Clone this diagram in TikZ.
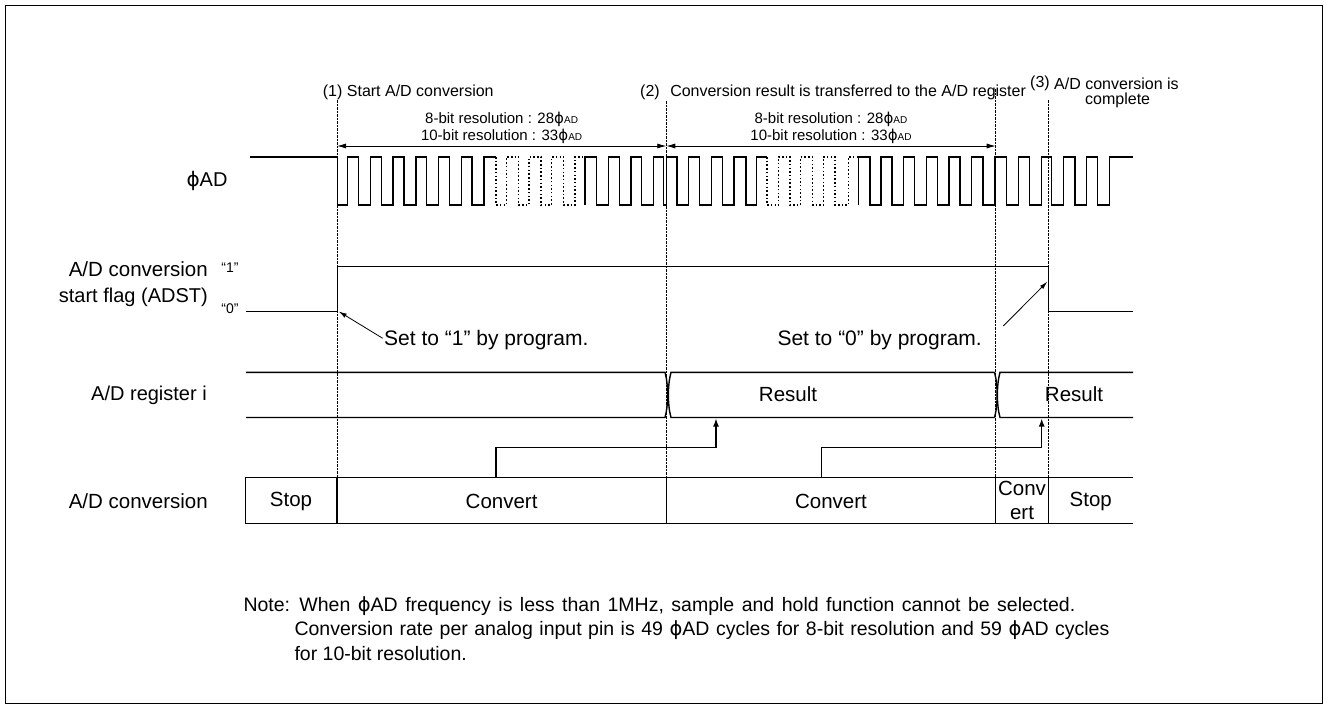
\documentclass[tikz,border=0pt]{standalone}
\usepackage{fontspec}
\setmainfont{Liberation Sans}
\newfontfamily\phifont{DejaVu Sans}
\usetikzlibrary{arrows.meta}
\newcommand\fsz[1]{\fontsize{#1}{#1}\selectfont}
\newcommand\phad{{\phifont ϕ}AD}
\newcommand\phsmall{{\phifont ϕ}{\fontsize{10}{10}\selectfont AD}}
\begin{document}
\begin{tikzpicture}[x=1pt,y=-1pt,
  wave/.style={line width=1.4pt},
  dotwave/.style={line width=1.5pt, dash pattern=on 1.5pt off 2.2pt},
  guide/.style={line width=0.9pt, dash pattern=on 2.5pt off 1pt},
  dimarrow/.style={line width=0.8pt, {Latex[length=9pt,width=5pt]}-{Latex[length=9pt,width=5pt]}},
  ptr/.style={line width=0.8pt, -{Latex[length=8pt,width=4.5pt]}},
  bigarrow/.style={line width=1.4pt, -{Latex[length=8pt,width=6pt]}},
  toplabel/.style={inner sep=0pt, font=\fsz{16}},
  dimlabel/.style={inner sep=0pt, font=\fsz{15}},
  rowlabel/.style={inner sep=0pt, font=\fsz{20}, align=right},
  celltext/.style={inner sep=0pt, font=\fsz{20.5}},
  settext/.style={inner sep=0pt, font=\fsz{21}},
  notetext/.style={inner sep=0pt, font=\fsz{19.5}, anchor=base west}]
\useasboundingbox (0,0) rectangle (1328,709);
\draw[line width=1pt] (5.5,5.5) rectangle (1322.5,703.5);

% guide lines
\coordinate (g1t) at (337,100);   \coordinate (g1b) at (337,477.7);
\coordinate (g2t) at (666.3,101); \coordinate (g2b) at (666.3,477.7);
\coordinate (g3t) at (995.7,89);  \coordinate (g3b) at (995.7,477.7);
\coordinate (g4t) at (1048.8,100);\coordinate (g4b) at (1048.8,477.7);
\draw[guide] (g1t) -- (g1b);
\draw[guide] (g2t) -- (g2b);
\draw[guide] (g3t) -- (g3b);
\draw[guide] (g4t) -- (g4b);

% top labels
\node[toplabel, anchor=base west] (l1) at (322.7,96.7) {(1) Start A/D conversion};
\node[toplabel, anchor=base west] (l2) at (640,96.7) {(2)\hspace{10.5pt}Conversion result is transferred to the A/D register};
\node[toplabel, anchor=base west] (l3a) at (1030,88) {(3)};
\node[toplabel, anchor=base west] (l3b) at (1054,89.5) {A/D conversion is};
\node[toplabel, anchor=base west] (l3c) at (1085,104.5) {complete};

% dimension arrows
\coordinate (d1) at (337,146); \coordinate (d2) at (666.3,146); \coordinate (d3) at (995.7,146);
\draw[dimarrow] (d1) -- (d2);
\draw[dimarrow] (d2) -- (d3);
\node[dimlabel, anchor=base] (r8a) at (501.6,123.5) {8-bit resolution : 28\phsmall};
\node[dimlabel, anchor=base] (r10a) at (501.6,140) {10-bit resolution : 33\phsmall};
\node[dimlabel, anchor=base] (r8b) at (831,123.5) {8-bit resolution : 28\phsmall};
\node[dimlabel, anchor=base] (r10b) at (831,140) {10-bit resolution : 33\phsmall};

% clock
\draw[wave] (250,157) -- (337.5,157) -- (337.5,205)
  \foreach \r/\f in {347.7/358.5, 370.4/381.2, 393.1/403.9, 415.8/426.6, 438.5/449.3, 461.2/472}
  { -- (\r,205) -- (\r,157) -- (\f,157) -- (\f,205) } -- (483.9,205) -- (483.9,157) -- (496,157);
\draw[dotwave] (496,157)
  \foreach \f/\r in {496/506.5, 518.5/529, 541.2/551.5, 563.5/575}
  { -- (\f,157) -- (\f,205) -- (\r,205) -- (\r,157) } -- (585,157);
\draw[wave] (585,205) -- (585,157)
  \foreach \f/\r in {596.7/608.3, 619.3/631, 641.7/653.3, 663.3/666.5, 677/688.3, 699.3/711.7, 722.7/734, 746/756.7}
  { -- (\f,157) -- (\f,205) -- (\r,205) -- (\r,157) } -- (767,157);
\draw[dotwave] (767,157)
  \foreach \f/\r in {767/778.3, 790/800.5, 812.7/823.3, 835/848.3}
  { -- (\f,157) -- (\f,205) -- (\r,205) -- (\r,157) } -- (858.3,157);
\draw[wave] (858.3,205) -- (858.3,157)
  \foreach \f/\r in {870/881, 892/903.6, 914.6/926.3, 937.3/949, 960/971.7, 983/995, 1006.7/1018.3, 1029.3/1041.7, 1051.7/1063.3, 1075/1086.7, 1097.3/1109.3}
  { -- (\f,157) -- (\f,205) -- (\r,205) -- (\r,157) } -- (1132.7,157);

% ADST
\draw[wave] (246,311.5) -- (337.5,311.5) -- (337.5,266.5) -- (1048.5,266.5) -- (1048.5,311.5) -- (1133,311.5);
\node[inner sep=0pt, font=\fsz{14}] (q1) at (230,268) {“1”};
\node[inner sep=0pt, font=\fsz{14}] (q0) at (230,309) {“0”};
\node[settext, anchor=west] (set1) at (384,340) {Set to “1” by program.};
\node[settext, anchor=east] (set0) at (982,340) {Set to “0” by program.};
\coordinate (s1tip) at (338.8,311.5);
\coordinate (s1from) at (382.7,338.3);
\coordinate (s0tip) at (1047.3,281.7);
\coordinate (s0from) at (1003.3,326);
\draw[ptr] (s1from) -- (s1tip);
\draw[ptr] (s0from) -- (s0tip);

% register
\def\rt{372.3}\def\rb{417.5}
\draw[wave] (246,\rt) -- (665,\rt) .. controls (668.5,385) and (668.5,405) .. (665,\rb) -- (246,\rb);
\draw[wave] (994.5,\rt) -- (671,\rt) .. controls (667.5,385) and (667.5,405) .. (671,\rb) -- (994.5,\rb);
\draw[wave] (994.5,\rt) .. controls (998,385) and (998,405) .. (994.5,\rb);
\draw[wave] (1133,\rt) -- (1000,\rt) .. controls (996.5,385) and (996.5,405) .. (1000,\rb) -- (1133,\rb);
\node[celltext] (res1) at (788,394) {Result};
\node[celltext] (res2) at (1074,394) {Result};

% conversion row
\draw[wave] (1133,477.7) -- (245.7,477.7) -- (245.7,523.3) -- (1133,523.3);
\foreach \x in {337,666.3,995.7,1048.5} { \draw[wave] (\x,477.7) -- (\x,523.3); }
\node[celltext] (c1) at (291,501) {Stop};
\node[celltext] (c2) at (501.6,501) {Convert};
\node[celltext] (c3) at (831,501) {Convert};
\node[celltext] (c4a) at (1022,488) {Conv};
\node[celltext] (c4b) at (1022,513) {ert};
\node[celltext] (c5) at (1090.8,501) {Stop};

% transfer arrows
\coordinate (a1s) at (496,477.7); \coordinate (a1e) at (716,418.5);
\coordinate (a2s) at (821.7,477.7); \coordinate (a2e) at (1041.7,418.5);
\draw[bigarrow] (a1s) -- (496,447.7) -| (a1e);
\draw[bigarrow] (a2s) -- (821.7,447.7) -| (a2e);

% row labels
\node[rowlabel] (lphi) at (207,181) {\phad};
\node[rowlabel, anchor=east, font=\fontsize{20}{26}\selectfont] (ladst) at (208,284) {{\fontsize{20.5}{26}\selectfont A/D conversion}\\start flag (ADST)};
\node[rowlabel, anchor=east] (lreg) at (207,395) {A/D register i};
\node[rowlabel, anchor=east, font=\fsz{20.5}] (lconv) at (208,501) {A/D conversion};

% note
\node[notetext] (n1) at (243.3,611) {\spaceskip=7.5pt Note: When \phad{} frequency is less than 1MHz, sample and hold function cannot be selected.};
\node[notetext] (n2) at (294.3,635.5) {\spaceskip=6.5pt Conversion rate per analog input pin is 49 \phad{} cycles for 8-bit resolution and 59 \phad{} cycles};
\node[notetext] (n3) at (294.3,660) {for 10-bit resolution.};
\end{tikzpicture}
\end{document}
